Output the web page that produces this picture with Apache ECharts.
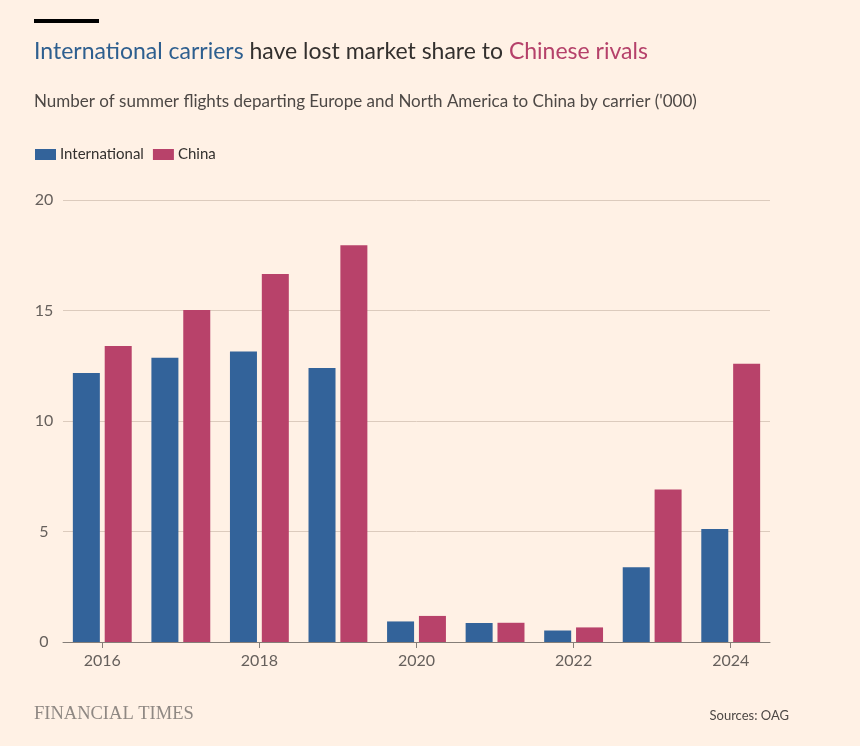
<!DOCTYPE html>
<html>
<head>
<meta charset="utf-8">
<script src="https://cdn.jsdelivr.net/npm/echarts@6/dist/echarts.min.js"></script>
<style>
html,body{margin:0;padding:0;background:#fff1e5;}
#chart{width:860px;height:746px;}
</style>
</head>
<body>
<div id="chart"></div>
<script>
const years = ['2016','2017','2018','2019','2020','2021','2022','2023','2024'];
const international = [12.17, 12.86, 13.14, 12.4, 0.93, 0.86, 0.52, 3.38, 5.11];
const china = [13.39, 15.02, 16.65, 17.95, 1.18, 0.87, 0.66, 6.9, 12.59];
const yTicks = { min: 0, max: 20, interval: 5 };

const FONT = 'Lato, "Open Sans", sans-serif';
const chart = echarts.init(document.getElementById('chart'), null, {renderer: 'canvas'});
chart.setOption({
  backgroundColor: '#fff1e5',
  animation: false,
  textStyle: { fontFamily: FONT },
  graphic: [
    { type: 'rect', left: 34, top: 19, shape: { width: 65, height: 4 }, style: { fill: '#000' } },
    { type: 'text', left: 34, top: 40, style: {
        rich: {
          b: { fill: '#2e5f8f', fontSize: 23, fontFamily: FONT },
          n: { fill: '#33302e', fontSize: 23, fontFamily: FONT },
          r: { fill: '#b5416a', fontSize: 23, fontFamily: FONT }
        },
        text: '{b|International carriers}{n| have lost market share to }{r|Chinese rivals}'
    }},
    { type: 'text', left: 34, top: 93, style: {
        text: "Number of summer flights departing Europe and North America to China by carrier ('000)",
        fill: '#4d4845', fontSize: 17, fontFamily: FONT
    }},
    { type: 'text', left: 34, top: 705, style: {
        text: 'FINANCIAL TIMES', fill: '#8f8883', fontSize: 18.5, fontFamily: '"Liberation Serif", "DejaVu Serif", serif'
    }},
    { type: 'text', right: 71, top: 709, style: {
        text: 'Sources: OAG', fill: '#4d4845', fontSize: 13, fontFamily: FONT
    }}
  ],
  legend: {
    left: 30, top: 142,
    itemWidth: 21, itemHeight: 11, itemGap: 9,
    icon: 'rect',
    textStyle: { color: '#33302e', fontSize: 15, fontFamily: FONT, padding: [0,0,0,-1] },
    data: ['International', 'China']
  },
  grid: { left: 63, right: 90, top: 200, bottom: 104, containLabel: false },
  xAxis: {
    type: 'category',
    data: years,
    boundaryGap: true,
    axisLine: { lineStyle: { color: '#857e78', width: 1 } },
    axisTick: { show: true, alignWithLabel: true, interval: 1, length: 6, lineStyle: { color: '#857e78' } },
    axisLabel: { interval: 1, color: '#66605c', fontSize: 16, margin: 11, fontFamily: FONT }
  },
  yAxis: {
    type: 'value',
    min: yTicks.min, max: yTicks.max, interval: yTicks.interval,
    axisLine: { show: false },
    axisTick: { show: false },
    axisLabel: { color: '#66605c', fontSize: 16, align: 'center', margin: 19, fontFamily: FONT },
    splitLine: { lineStyle: { color: '#dccbbd', width: 1 } }
  },
  series: [
    { name: 'International', type: 'bar', data: international, barWidth: 27, barGap: '18%',
      itemStyle: { color: '#33639a' } },
    { name: 'China', type: 'bar', data: china, barWidth: 27,
      itemStyle: { color: '#b8426a' } }
  ]
});
</script>
</body>
</html>
